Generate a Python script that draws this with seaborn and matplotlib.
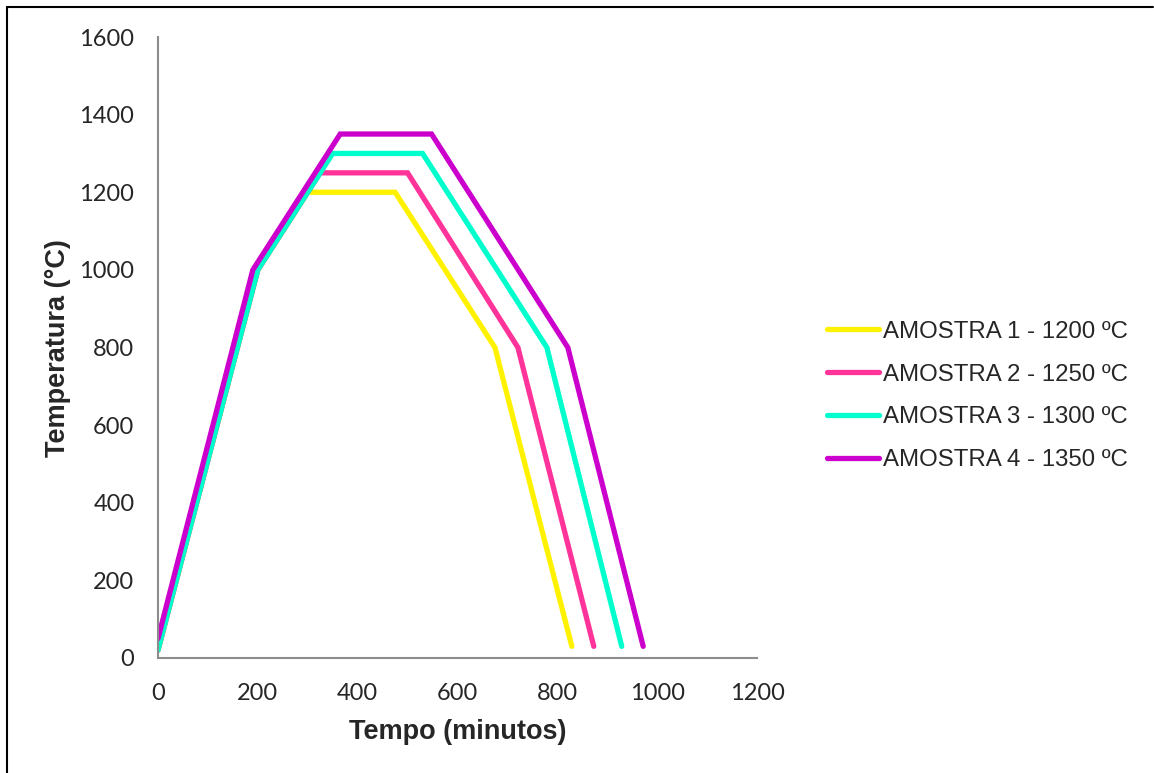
import matplotlib
matplotlib.use("Agg")
import matplotlib.pyplot as plt
import seaborn as sns
import pandas as pd
from matplotlib.lines import Line2D

# Data
labels = ["AMOSTRA 1 - 1200 ºC", "AMOSTRA 2 - 1250 ºC", "AMOSTRA 3 - 1300 ºC", "AMOSTRA 4 - 1350 ºC"]
t1 = [0, 200, 300, 475, 675, 829]
T1 = [20, 1000, 1200, 1200, 800, 30]
t2 = [0, 200, 325, 500, 721, 873]
T2 = [20, 1000, 1250, 1250, 800, 30]
t3 = [0, 200, 350, 530, 779, 929]
T3 = [20, 1000, 1300, 1300, 800, 30]
t4 = [0, 190, 365, 548, 821, 972]
T4 = [50, 1000, 1350, 1350, 800, 30]
colors = ["#FFF200", "#FF3399", "#00FFCC", "#CC00CC"]
xticks = [0, 200, 400, 600, 800, 1000, 1200]
yticks = [0, 200, 400, 600, 800, 1000, 1200, 1400, 1600]

frames = []
for lab, t, T in zip(labels, [t1, t2, t3, t4], [T1, T2, T3, T4]):
    frames.append(pd.DataFrame({"Tempo": t, "Temp": T, "Serie": lab}))
df = pd.concat(frames, ignore_index=True)

sns.set_theme(style="white")
plt.rcParams["font.family"] = ["Liberation Sans", "DejaVu Sans"]

fig = plt.figure(figsize=(11.54, 7.73), dpi=100)
ax = fig.add_axes([158/1154, 1-658/773, (757-158)/1154, (658-37)/773])

sns.lineplot(data=df, x="Tempo", y="Temp", hue="Serie", palette=colors,
             hue_order=labels, sort=False, estimator=None, linewidth=3.8,
             ax=ax, legend=False, solid_capstyle="round", solid_joinstyle="miter")

ax.set_xlim(0, 1200)
ax.set_ylim(0, 1600)
ax.set_xticks(xticks)
ax.set_yticks(yticks)
ax.set_xticklabels([str(v) for v in xticks], fontfamily="Lato", fontsize=17)
ax.set_yticklabels([str(v) for v in yticks], fontfamily="Lato", fontsize=17)
ax.tick_params(axis="both", length=0)
ax.tick_params(axis="y", pad=17)
ax.tick_params(axis="x", pad=18)
for s in ["top", "right"]:
    ax.spines[s].set_visible(False)
for s in ["left", "bottom"]:
    ax.spines[s].set_color("#8c8c8c")
    ax.spines[s].set_linewidth(1.5)
ax.grid(False)

ax.set_xlabel("Tempo (minutos)", fontsize=19.5, fontweight="bold")
ax.set_ylabel("Temperatura (°C)", fontsize=19.5, fontweight="bold")
ax.yaxis.set_label_coords(71/1154, 1-348/773, transform=fig.transFigure)
ax.xaxis.set_label_coords(458/1154, 1-719/773, transform=fig.transFigure)

handles = [Line2D([0], [0], color=c, linewidth=3.8, solid_capstyle="round") for c in colors]
leg = fig.legend(handles, labels, loc="center left", bbox_to_anchor=(805/1154, 1-396/773),
                 frameon=False, fontsize=17.3, handlelength=2.2, handletextpad=0.15,
                 labelspacing=0.87)

# outer border (left and top)
fig.add_artist(Line2D([7/1154, 7/1154], [0, 1-7/773], color="black", linewidth=1.5, transform=fig.transFigure))
fig.add_artist(Line2D([7/1154, 1153/1154], [1-7/773, 1-7/773], color="black", linewidth=1.5, transform=fig.transFigure))

fig.savefig("out.png", dpi=100, facecolor="white")
